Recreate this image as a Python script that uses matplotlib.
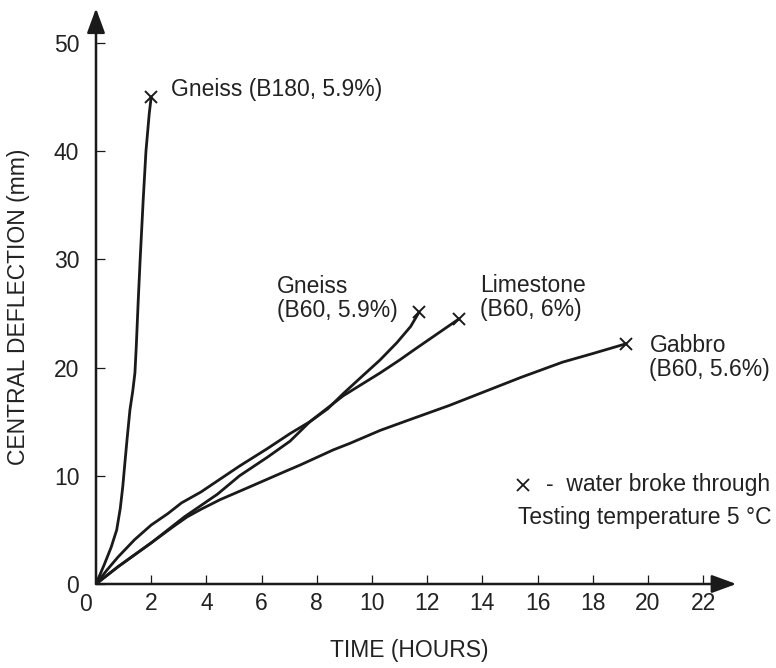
import matplotlib
matplotlib.use('Agg')
import matplotlib.pyplot as plt
import matplotlib.transforms as mtransforms

plt.rcParams['font.family'] = ['Liberation Sans', 'DejaVu Sans']

# curves: time (h) vs central deflection (mm)
gneiss_b180_t = [0, 0.3, 0.55, 0.75, 0.88, 0.97, 1.04, 1.13, 1.23, 1.33, 1.41, 1.46, 1.53, 1.6, 1.71, 1.81, 1.93, 2.0]
gneiss_b180_d = [0, 1.8, 3.4, 5.0, 7.0, 9.0, 11.0, 13.5, 16.1, 17.8, 19.5, 22.0, 26.2, 30.0, 35.5, 40.0, 43.5, 45.0]

gneiss_b60_t = [0, 0.8, 2.0, 3.2, 4.4, 5.2, 6.2, 7.03, 7.75, 8.4, 8.96, 9.6, 10.29, 10.9, 11.4, 11.7]
gneiss_b60_d = [0, 1.6, 3.8, 6.2, 8.3, 10.0, 11.7, 13.2, 15.0, 16.2, 17.6, 19.1, 20.7, 22.3, 23.8, 25.1]

limestone_t = [0, 0.4, 0.8, 1.4, 2.0, 2.6, 3.1, 3.8, 4.5, 5.2, 6.2, 7.03, 7.75, 8.96, 10.29, 11.0, 11.5, 13.15]
limestone_d = [0, 1.3, 2.5, 4.1, 5.45, 6.5, 7.5, 8.5, 9.7, 10.9, 12.5, 13.9, 15.0, 17.4, 19.5, 20.7, 21.6, 24.5]

gabbro_t = [0, 0.8, 2.0, 2.8, 3.3, 3.8, 4.5, 5.5, 6.85, 7.4, 8.6, 9.2, 10.3, 11.38, 12.8, 13.9, 15.4, 16.9, 18.0, 19.2]
gabbro_d = [0, 1.6, 3.8, 5.3, 6.2, 6.9, 7.8, 8.9, 10.4, 11.0, 12.4, 13.0, 14.2, 15.2, 16.5, 17.6, 19.1, 20.5, 21.3, 22.2]

x_ticks = list(range(0, 23, 2))
y_ticks = list(range(0, 51, 10))

curves = [
    (gneiss_b180_t, gneiss_b180_d, 'Gneiss (B180, 5.9%)', (0.7, 0.7)),
    (gneiss_b60_t, gneiss_b60_d, 'Gneiss\n(B60, 5.9%)', (-5.15, 1.3)),
    (limestone_t, limestone_d, 'Limestone\n(B60, 6%)', (0.75, 2.0)),
    (gabbro_t, gabbro_d, 'Gabbro\n(B60, 5.6%)', (0.85, -1.25)),
]

line_col = '#1a1a1a'
text_col = '#222222'

fig = plt.figure(figsize=(7.76, 6.68), dpi=100)
ax = fig.add_axes([96 / 776, 84 / 668, 648.6 / 776, 576.7 / 668])
ax.set_xlim(0, 23.5)
ax.set_ylim(0, 53.3)

for s in ax.spines.values():
    s.set_visible(False)

for t, d, label, off in curves:
    ax.plot(t, d, color=line_col, lw=2.0, solid_capstyle='round', solid_joinstyle='round')
    ax.plot(t[-1], d[-1], marker='x', ms=9, mew=1.4, color=line_col, ls='none')
    ax.text(t[-1] + off[0], d[-1] + off[1], label, fontsize=16.5, color=text_col,
            ha='left', va='center', linespacing=1.05)

# axes with arrow heads
arrow = dict(arrowstyle='-|>,head_length=0.6,head_width=0.22', lw=1.8, color=line_col,
             shrinkA=0, shrinkB=0, mutation_scale=25)
ax.annotate('', xy=(23.2, 0), xytext=(0, 0), arrowprops=arrow, annotation_clip=False)
ax.annotate('', xy=(0, 53.2), xytext=(0, 0), arrowprops=arrow, annotation_clip=False)

ax.set_xticks(x_ticks)
ax.set_yticks(y_ticks)
ax.set_xticklabels([''] + [str(v) for v in x_ticks[1:]])
ax.tick_params(direction='in', length=6.5, width=0.9, color=line_col,
               labelsize=16.5, labelcolor=text_col)
ax.tick_params(axis='x', pad=6)
ax.tick_params(axis='y', pad=12)

# the x "0" sits a little left of the origin
ax.text(0, 0, '0', fontsize=16.5, color=text_col, ha='center', va='top',
        transform=ax.transData + mtransforms.ScaledTranslation(-10 / 100, -9 / 100, fig.dpi_scale_trans))

# legend note
ax.plot(15.47, 9.15, marker='x', ms=9, mew=1.3, color=line_col, ls='none', clip_on=False)
ax.text(16.3, 9.15, '-  water broke through', fontsize=16.5, color=text_col, ha='left', va='center')
ax.text(15.29, 6.19, 'Testing temperature 5 \u00b0C', fontsize=16.5, color=text_col, ha='left', va='center')

fig.text(409 / 776, 1 - 650 / 668, 'TIME (HOURS)', fontsize=16.5, color=text_col,
         ha='center', va='center')
fig.text(19 / 776, 1 - 307 / 668, 'CENTRAL DEFLECTION (mm)', fontsize=16.5, color=text_col,
         ha='center', va='center', rotation=90)

fig.savefig('out.png', dpi=100, facecolor='white')
